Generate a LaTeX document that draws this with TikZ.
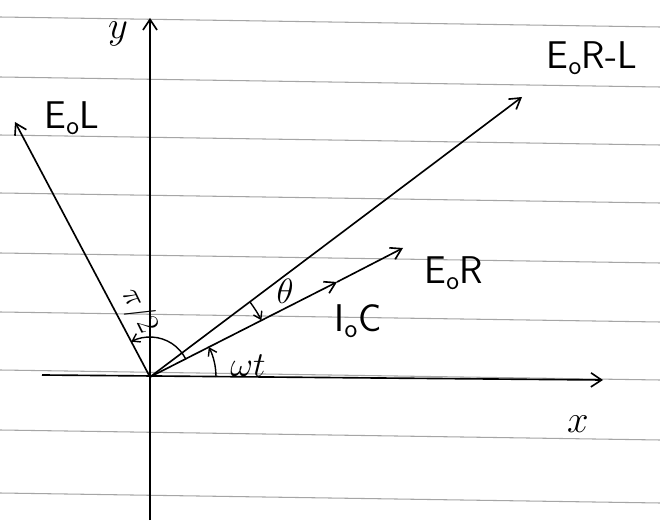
\RequirePackage{fix-cm}
\documentclass[tikz,border=0pt]{standalone}
\usetikzlibrary{arrows.meta}
\begin{document}
\begin{tikzpicture}[x=0.03cm,y=0.03cm,
  ruling/.style={draw=black!35,line width=0.9pt},
  vec/.style={line width=1.4pt,-{Straight Barb[length=9pt,width=11pt,line width=1.4pt]}},
  axis/.style={line width=1.4pt,-{Straight Barb[length=9pt,width=12pt,line width=1.4pt]}},
  angarc/.style={line width=1.2pt,-{Straight Barb[length=6pt,width=8pt,line width=1.2pt]}},
  lab/.style={font=\sffamily\fontsize{33}{35}\selectfont,inner sep=1pt},
  sym/.style={font=\fontsize{30}{32}\selectfont,inner sep=1pt}]
\useasboundingbox (0,0) rectangle (660,520);
\fill[white] (0,0) rectangle (660,520);
% notebook ruling
\foreach \y in {503,443,385,327,267,208,150,90,27}
  \draw[ruling] (0,\y) -- (660,\y-10);
% coordinates
\coordinate (O) at (150,143);
\coordinate (ytip) at (150,502);
\coordinate (ybot) at (150,0);
\coordinate (xl) at (42,145);
\coordinate (xr) at (603,140);
\coordinate (EL) at (15,398);
\coordinate (ERL) at (522,423);
\coordinate (IC) at (337,238);
\coordinate (ER) at (403,272);
% axes
\draw[axis] (ybot) -- (ytip);
\draw[axis] (xl) -- (xr);
% phasors
\draw[vec] (O) -- (EL);
\draw[vec] (O) -- (ERL);
\draw[vec] (O) -- (IC);
\draw[vec] (IC) -- (ER);
% angle arcs
\draw[angarc] ([shift={(0:66)}]O) arc[start angle=0,end angle=27,radius=66];
\draw[angarc] ([shift={(37:125)}]O) arc[start angle=37,end angle=27,radius=125];
\draw[angarc] ([shift={(27:40)}]O) arc[start angle=27,end angle=118,radius=40];
% labels
\node[lab] (ly) at (118,486) {$y$};
\node[lab] (lx) at (578,96) {$x$};
\node[lab] (lERL) at (592,462) {E\textsubscript{o}R-L};
\node[lab] (lEL) at (72,402) {E\textsubscript{o}L};
\node[lab] (lER) at (454,247) {E\textsubscript{o}R};
\node[lab] (lIC) at (358,199) {I\textsubscript{o}C};
\node[sym] (lth) at (285,229) {$\theta$};
\node[sym] (lwt) at (248,154) {$\omega t$};
\node[rotate=-64,font=\fontsize{26}{28}\selectfont,inner sep=0pt] (lpi) at (139,209) {$\pi/2$};
\end{tikzpicture}
\end{document}
